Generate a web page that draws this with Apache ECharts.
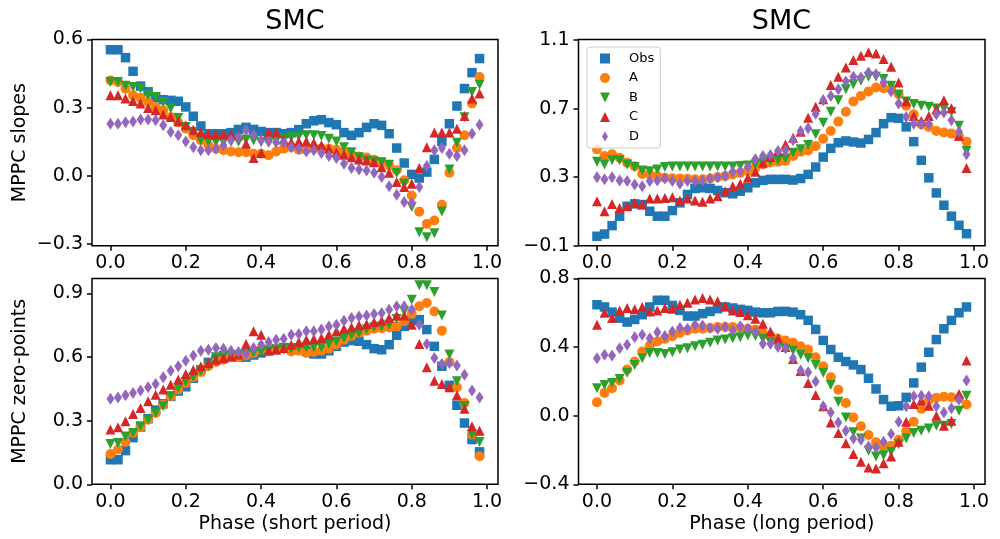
<!DOCTYPE html>
<html><head><meta charset="utf-8">
<script src="https://cdn.jsdelivr.net/npm/echarts@6/dist/echarts.min.js"></script>
<style>html,body{margin:0;padding:0;background:#fff}#c{width:1000px;height:539px}</style>
</head><body><div id="c"></div>
<script>
const phase = [0.00,0.02,0.04,0.06,0.08,0.10,0.12,0.14,0.16,0.18,0.20,0.22,0.24,0.26,0.28,0.30,0.32,0.34,0.36,0.38,0.40,0.42,0.44,0.46,0.48,0.50,0.52,0.54,0.56,0.58,0.60,0.62,0.64,0.66,0.68,0.70,0.72,0.74,0.76,0.78,0.80,0.82,0.84,0.86,0.88,0.90,0.92,0.94,0.96,0.98];
const seriesNames = ['Obs','A','B','C','D'];
const xTicks = [0,0.2,0.4,0.6,0.8,1.0];
const yTicksSlopeShort = [-0.3,0,0.3,0.6];
const yTicksSlopeLong = [-0.1,0.3,0.7,1.1];
const yTicksZpShort = [0,0.3,0.6,0.9];
const yTicksZpLong = [-0.4,0,0.4,0.8];

// Top-left: MPPC slopes, short period
const slopeShortObs = [0.555,0.555,0.52,0.46,0.395,0.37,0.345,0.335,0.332,0.328,0.303,0.262,0.219,0.185,0.185,0.185,0.19,0.204,0.213,0.204,0.195,0.19,0.19,0.185,0.19,0.203,0.229,0.242,0.247,0.234,0.225,0.19,0.178,0.19,0.213,0.229,0.222,0.185,0.122,0.056,0.006,-0.01,0.016,0.072,0.151,0.229,0.307,0.384,0.454,0.516];
const slopeShortA = [0.42,0.413,0.383,0.354,0.342,0.325,0.303,0.288,0.259,0.236,0.207,0.178,0.156,0.134,0.119,0.112,0.107,0.104,0.104,0.097,0.097,0.09,0.107,0.119,0.126,0.115,0.115,0.12,0.12,0.12,0.115,0.105,0.095,0.085,0.08,0.07,0.06,0.045,0.024,-0.02,-0.087,-0.158,-0.212,-0.197,-0.128,0.013,0.122,0.178,0.318,0.435];
const slopeShortB = [0.413,0.413,0.396,0.391,0.384,0.354,0.347,0.325,0.296,0.254,0.215,0.193,0.156,0.15,0.148,0.148,0.15,0.15,0.16,0.155,0.148,0.145,0.155,0.165,0.17,0.173,0.178,0.178,0.175,0.163,0.151,0.126,0.104,0.082,0.067,0.063,0.06,0.048,0.012,-0.035,-0.138,-0.249,-0.271,-0.253,-0.157,0.028,0.145,0.258,0.369,0.401];
const slopeShortC = [0.354,0.354,0.34,0.329,0.318,0.298,0.288,0.27,0.259,0.24,0.222,0.203,0.193,0.185,0.182,0.182,0.182,0.178,0.141,0.078,0.1,0.19,0.19,0.16,0.148,0.151,0.151,0.145,0.134,0.119,0.104,0.093,0.082,0.072,0.067,0.06,0.038,0.013,-0.028,-0.05,-0.035,0.034,0.126,0.19,0.19,0.19,0.207,0.263,0.34,0.362];
const slopeShortD = [0.229,0.229,0.236,0.239,0.248,0.248,0.244,0.222,0.193,0.178,0.151,0.126,0.112,0.112,0.119,0.134,0.156,0.17,0.2,0.181,0.156,0.151,0.148,0.145,0.126,0.119,0.107,0.112,0.1,0.087,0.078,0.053,0.034,0.028,0.023,0.013,-0.006,-0.046,-0.084,-0.116,-0.119,-0.05,0.043,0.112,0.122,0.097,0.087,0.112,0.185,0.225];

// Top-right: MPPC slopes, long period
const slopeLongObs = [-0.045,-0.032,0.017,0.072,0.13,0.144,0.14,0.101,0.072,0.072,0.105,0.15,0.199,0.234,0.238,0.234,0.222,0.209,0.203,0.218,0.238,0.267,0.281,0.287,0.287,0.287,0.283,0.292,0.316,0.359,0.417,0.468,0.501,0.511,0.505,0.499,0.52,0.56,0.612,0.647,0.643,0.593,0.507,0.398,0.296,0.208,0.136,0.072,0.019,-0.03];
const slopeLongA = [0.462,0.423,0.433,0.413,0.384,0.364,0.319,0.315,0.306,0.296,0.294,0.292,0.29,0.287,0.287,0.292,0.3,0.306,0.316,0.325,0.335,0.354,0.374,0.385,0.39,0.395,0.423,0.448,0.456,0.481,0.524,0.569,0.624,0.682,0.741,0.774,0.8,0.823,0.819,0.813,0.784,0.716,0.667,0.608,0.593,0.569,0.56,0.554,0.54,0.507];
const slopeLongB = [0.39,0.374,0.398,0.398,0.374,0.359,0.339,0.335,0.345,0.359,0.362,0.362,0.362,0.362,0.362,0.362,0.362,0.362,0.362,0.365,0.368,0.374,0.384,0.394,0.4,0.409,0.442,0.462,0.487,0.55,0.618,0.682,0.749,0.813,0.842,0.862,0.885,0.885,0.872,0.833,0.78,0.741,0.726,0.716,0.71,0.7,0.7,0.68,0.6,0.452];
const slopeLongC = [0.16,0.101,0.144,0.12,0.13,0.15,0.14,0.175,0.175,0.179,0.183,0.163,0.175,0.163,0.156,0.175,0.189,0.218,0.247,0.261,0.296,0.331,0.384,0.417,0.452,0.49,0.53,0.565,0.647,0.71,0.755,0.838,0.885,0.94,0.983,1.008,1.028,1.022,0.989,0.944,0.852,0.741,0.657,0.628,0.657,0.696,0.749,0.702,0.54,0.354];
const slopeLongD = [0.3,0.287,0.3,0.281,0.277,0.257,0.247,0.277,0.281,0.292,0.277,0.261,0.277,0.277,0.281,0.292,0.3,0.306,0.331,0.335,0.359,0.404,0.423,0.429,0.452,0.456,0.515,0.569,0.585,0.67,0.749,0.774,0.813,0.858,0.885,0.881,0.911,0.9,0.852,0.8,0.729,0.651,0.612,0.608,0.612,0.667,0.677,0.632,0.565,0.433];

// Bottom-left: MPPC zero-points, short period
const zpShortObs = [0.116,0.116,0.159,0.22,0.27,0.31,0.35,0.38,0.415,0.44,0.46,0.5,0.54,0.575,0.59,0.595,0.6,0.6,0.6,0.61,0.62,0.635,0.64,0.645,0.643,0.635,0.627,0.615,0.615,0.63,0.651,0.671,0.678,0.675,0.659,0.64,0.635,0.659,0.703,0.745,0.772,0.777,0.73,0.651,0.557,0.467,0.373,0.289,0.211,0.153];
const zpShortA = [0.143,0.164,0.2,0.242,0.269,0.305,0.336,0.376,0.415,0.447,0.478,0.505,0.53,0.557,0.577,0.588,0.599,0.599,0.608,0.619,0.635,0.64,0.64,0.64,0.627,0.63,0.62,0.624,0.63,0.64,0.66,0.682,0.7,0.714,0.725,0.734,0.737,0.74,0.745,0.77,0.804,0.84,0.855,0.815,0.725,0.577,0.458,0.384,0.234,0.132];
const zpShortB = [0.19,0.195,0.226,0.242,0.274,0.305,0.336,0.368,0.415,0.454,0.483,0.505,0.535,0.561,0.599,0.605,0.61,0.61,0.615,0.62,0.625,0.63,0.635,0.64,0.64,0.643,0.645,0.645,0.645,0.662,0.674,0.69,0.703,0.714,0.73,0.741,0.745,0.753,0.78,0.816,0.871,0.939,0.939,0.907,0.797,0.612,0.486,0.37,0.234,0.2];
const zpShortC = [0.258,0.269,0.297,0.332,0.36,0.392,0.423,0.447,0.47,0.494,0.52,0.541,0.557,0.572,0.588,0.596,0.604,0.612,0.662,0.722,0.706,0.63,0.635,0.643,0.659,0.671,0.682,0.685,0.69,0.706,0.722,0.734,0.741,0.75,0.756,0.766,0.772,0.785,0.797,0.797,0.753,0.662,0.552,0.489,0.473,0.458,0.42,0.357,0.274,0.253];
const zpShortD = [0.404,0.41,0.42,0.431,0.442,0.458,0.473,0.505,0.536,0.557,0.583,0.608,0.63,0.635,0.643,0.64,0.63,0.624,0.615,0.643,0.659,0.671,0.682,0.687,0.706,0.709,0.722,0.722,0.73,0.745,0.753,0.772,0.785,0.792,0.797,0.804,0.808,0.824,0.84,0.84,0.824,0.753,0.662,0.596,0.568,0.572,0.561,0.517,0.442,0.41];

// Bottom-right: MPPC zero-points, long period
const zpLongObs = [0.647,0.634,0.604,0.569,0.546,0.561,0.589,0.634,0.673,0.673,0.643,0.614,0.581,0.581,0.595,0.608,0.624,0.634,0.628,0.62,0.614,0.604,0.6,0.6,0.608,0.608,0.604,0.589,0.556,0.503,0.439,0.386,0.341,0.316,0.296,0.269,0.218,0.156,0.094,0.055,0.058,0.107,0.191,0.283,0.37,0.444,0.507,0.556,0.6,0.634];
const zpLongA = [0.078,0.133,0.16,0.205,0.269,0.316,0.374,0.409,0.433,0.448,0.464,0.483,0.497,0.507,0.507,0.511,0.517,0.517,0.517,0.511,0.507,0.503,0.483,0.464,0.448,0.439,0.425,0.405,0.386,0.341,0.288,0.224,0.152,0.074,-0.01,-0.062,-0.113,-0.155,-0.18,-0.175,-0.14,-0.09,-0.035,0.04,0.09,0.105,0.11,0.108,0.1,0.065];
const zpLongB = [0.16,0.179,0.191,0.214,0.25,0.296,0.335,0.366,0.366,0.36,0.37,0.386,0.394,0.405,0.413,0.425,0.439,0.444,0.452,0.458,0.468,0.464,0.448,0.429,0.4,0.39,0.38,0.355,0.335,0.296,0.25,0.179,0.082,-0.01,-0.097,-0.133,-0.205,-0.238,-0.23,-0.21,-0.166,-0.133,-0.101,-0.088,-0.074,-0.058,-0.058,-0.049,0.029,0.117];
const zpLongC = [0.53,0.6,0.569,0.614,0.628,0.62,0.634,0.608,0.614,0.628,0.624,0.647,0.659,0.678,0.686,0.678,0.667,0.639,0.614,0.604,0.585,0.565,0.536,0.491,0.452,0.4,0.33,0.26,0.191,0.121,0.055,-0.039,-0.101,-0.16,-0.224,-0.269,-0.302,-0.308,-0.277,-0.238,-0.152,-0.035,0.068,0.088,0.058,0.0,-0.058,-0.029,0.127,0.322];
const zpLongD = [0.335,0.355,0.351,0.394,0.413,0.458,0.472,0.452,0.487,0.464,0.491,0.511,0.507,0.53,0.526,0.511,0.507,0.517,0.497,0.522,0.507,0.491,0.419,0.419,0.4,0.394,0.335,0.263,0.253,0.199,0.055,0.019,-0.039,-0.088,-0.133,-0.14,-0.179,-0.185,-0.152,-0.107,-0.035,0.055,0.113,0.117,0.113,0.055,0.019,0.043,0.094,0.205];

const panels = [
  {grid:{left:92,top:39.5,width:406,height:206.2}, ymin:-0.308, ymax:0.6, yticks:yTicksSlopeShort, data:[slopeShortObs,slopeShortA,slopeShortB,slopeShortC,slopeShortD], yname:'MPPC slopes', xname:''},
  {grid:{left:578.5,top:39.5,width:406.5,height:206.2}, ymin:-0.1, ymax:1.103, yticks:yTicksSlopeLong, data:[slopeLongObs,slopeLongA,slopeLongB,slopeLongC,slopeLongD], yname:'', xname:''},
  {grid:{left:92,top:278.5,width:406,height:205.8}, ymin:0, ymax:0.971, yticks:yTicksZpShort, data:[zpShortObs,zpShortA,zpShortB,zpShortC,zpShortD], yname:'MPPC zero-points', xname:'Phase (short period)'},
  {grid:{left:578.5,top:278.5,width:406.5,height:205.8}, ymin:-0.4, ymax:0.8, yticks:yTicksZpLong, data:[zpLongObs,zpLongA,zpLongB,zpLongC,zpLongD], yname:'', xname:'Phase (long period)'}
];
const colors = ['#1f77b4','#ff7f0e','#2ca02c','#d62728','#9467bd'];
const symbols = ['path://M0,0L10,0L10,10L0,10Z','circle','path://M0,0L10,0L5,10Z','path://M5,0L10,10L0,10Z','path://M3,0L6,5L3,10L0,5Z'];
const sizes = [9.5,10,10,10,[8,12]];
const FONT = 'DejaVu Sans';
const fmt = v => (Math.abs(v) < 1e-9 ? 0 : v).toFixed(1).replace('-', '\u2212');

const grids = [], xAxes = [], yAxes = [], series = [];
panels.forEach((p, k) => {
  grids.push(Object.assign({show:true, borderColor:'#000', borderWidth:1.5, backgroundColor:'#fff', containLabel:false}, p.grid));
  xAxes.push({
    type:'value', gridIndex:k, min:-0.049, max:1.029,
    splitLine:{show:false}, axisLine:{show:false, onZero:false},
    axisTick:{show:true, length:5, lineStyle:{color:'#000', width:1.5}, customValues:xTicks},
    axisLabel:{fontSize:19, color:'#000', fontFamily:FONT, margin:8, customValues:xTicks, formatter:fmt},
    name:p.xname, nameLocation:'middle', nameGap:30,
    nameTextStyle:{fontSize:19, color:'#000', fontFamily:FONT}
  });
  yAxes.push({
    type:'value', gridIndex:k, min:p.ymin, max:p.ymax,
    splitLine:{show:false}, axisLine:{show:false, onZero:false},
    axisTick:{show:true, length:5, lineStyle:{color:'#000', width:1.5}, customValues:p.yticks},
    axisLabel:{fontSize:19, color:'#000', fontFamily:FONT, margin:9, customValues:p.yticks, formatter:fmt},
    name:p.yname, nameLocation:'middle', nameGap:62, nameRotate:90,
    nameTextStyle:{fontSize:19, color:'#000', fontFamily:FONT}
  });
  p.data.forEach((arr, s) => {
    series.push({
      type:'scatter', name:seriesNames[s], xAxisIndex:k, yAxisIndex:k,
      data: phase.map((ph, i) => [ph, arr[i]]),
      symbol:symbols[s], symbolSize:sizes[s],
      itemStyle:{color:colors[s], opacity:1},
      emphasis:{disabled:true}, silent:true, animation:false
    });
  });
});

const chart = echarts.init(document.getElementById('c'), null, {renderer:'canvas'});
chart.setOption({
  animation:false,
  backgroundColor:'#fff',
  textStyle:{fontFamily:FONT},
  grid:grids, xAxis:xAxes, yAxis:yAxes, series:series,
  legend:{
    show:true, orient:'vertical', left:587, top:47,
    data:seriesNames, selectedMode:false,
    itemWidth:10, itemHeight:10, itemGap:6.5, symbolKeepAspect:true,
    padding:[5,6,5,13],
    formatter: n => '{t|' + n + '}',
    textStyle:{fontSize:13, lineHeight:13, color:'#000', fontFamily:FONT,
      rich:{t:{fontSize:13, lineHeight:13, color:'#000', fontFamily:FONT, padding:[0,0,0,14]}}},
    borderColor:'#cccccc', borderWidth:1, borderRadius:3,
    backgroundColor:'rgba(255,255,255,0.8)'
  },
  graphic:[
    {type:'text', x:295, y:21.5, style:{text:'SMC', fontSize:27, fontFamily:FONT, fill:'#000', textAlign:'center', textVerticalAlign:'middle'}},
    {type:'text', x:781.5, y:21.5, style:{text:'SMC', fontSize:27, fontFamily:FONT, fill:'#000', textAlign:'center', textVerticalAlign:'middle'}}
  ]
});
</script>
</body></html>
